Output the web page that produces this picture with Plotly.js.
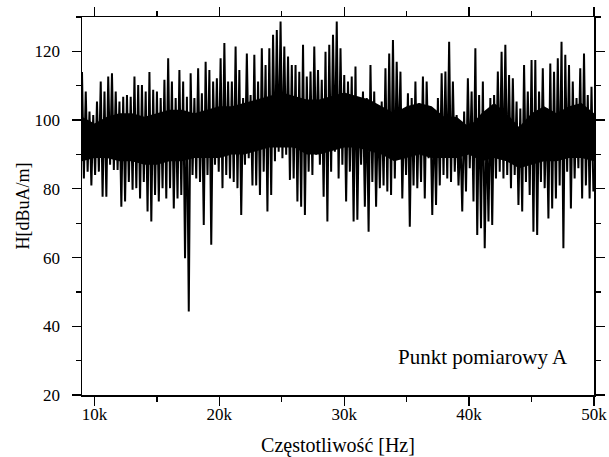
<!DOCTYPE html>
<html>
<head>
<meta charset="utf-8">
<script src="https://cdn.plot.ly/plotly-3.0.1.min.js"></script>
<style>html,body{margin:0;padding:0;background:#fff}#chart{width:609px;height:457px}</style>
</head>
<body>
<div id="chart"></div>
<script>
// Spectrum: local maxima and minima on a 300 Hz grid
const startFreq = 9000;      // Hz, first maximum
const stepFreq = 300;        // Hz between successive maxima (minima sit halfway)
const peakLevel = [
114,108.3,102.5,101.5,105.4,111.2,108.3,112.7,113.6,108.3,105.4,106.8,107.3,106.8,112.7,110.2,110.2,108.3,114,108.8,108.3,106.4,111.7,118,
111.2,106.4,114.6,111.2,106.8,113.6,106.4,115.1,107.8,117,114.6,111.2,112.2,118,122.4,111.2,111.2,121.4,114.6,106.4,119.4,107.3,
119,111.2,120.9,116,120.9,124.8,126.2,128.7,121.4,118.5,116,116,114.1,121.9,112.7,114.1,121.4,114.6,111.7,119.9,121.9,124.8,128.7,
120.9,113.1,111.2,112.7,115.6,106.4,108.3,106.4,116,108.3,102.5,105.4,115.1,119.4,123.3,117,114.1,103.4,107.8,106.4,111.2,104.9,112.7,
111.2,101.5,102.5,106.4,113.6,114.1,122.8,111.2,101.5,95.7,102.5,112.2,108.3,120.9,107.3,111.2,98.6,106.4,107.3,114.1,119.9,121.9,113.1,
112.2,105.4,103.4,116,108.3,117.5,117.5,108.3,115.1,103.4,116.5,114.1,118,122.8,119,116,111.2,106.4,115.1,119.4,107.3,109.7
];
const dipLevel = [
83,85,81,84,85,77.7,77.7,87,85.5,85.5,74.8,76.3,82,79.7,80.2,77.2,82,73.4,70.5,78.2,76.3,80.2,77.2,80.2,
74.3,77.2,78.2,59.8,44.3,84,83,82,69.5,84,63.7,87,85,80.2,84,83,82,80.2,72.4,87,88.9,81,
81,78.2,85,73.4,78.2,88,90.8,88.9,89.9,82.6,83,76.3,74.8,72.4,85,84,89.9,87,77.7,70.5,85,90.8,83,
87,76.3,85,70.5,71,87,74.8,67.5,82,74.8,80.2,81,79.2,78.2,83,89.9,77.2,84,69,81,80.2,82,77.2,
88.9,72.4,75.3,81,84,83,82,85,81,73.4,79.2,86,76.3,66.6,68.5,62.7,70.5,69.5,83,85,83,84,80.2,
84,75.3,73.4,82,78.2,67.5,66.6,82,80.2,71.4,74.3,77.2,81,62.7,85,74.3,83,86,77.2,81,77.2,79.2
];
// Dense (solid) part of the spectrum, edges read every 1 kHz from 9 kHz to 50 kHz
const coreFreq = [9000,10000,11000,12000,13000,14000,15000,16000,17000,18000,19000,20000,21000,22000,23000,24000,25000,26000,27000,28000,29000,30000,31000,32000,33000,34000,35000,36000,37000,38000,39000,40000,41000,42000,43000,44000,45000,46000,47000,48000,49000,50000];
const coreHigh = [101,99,101,102,102,101,102,103,103,102,103,104,104,105,106,107,108,107,106,106,107,108,107,106,104,102,104,105,104,101,101,98,102,105,102,98,102,104,102,104,105,102];
const coreLow  = [88,89,89,88,88,87,87,88,88,89,89,89,90,90,91,92,92,92,90,90,91,92,92,91,90,88,89,90,89,89,89,90,88,89,88,86,87,88,88,89,89,88];
const xTitle = 'Częstotliwość [Hz]';
const yTitle = 'H[dBuA/m]';
const label = 'Punkt pomiarowy A';

const xs = [], ys = [];
for (let i = 0; i < peakLevel.length; i++) {
  xs.push(startFreq + i * stepFreq); ys.push(peakLevel[i]);
  xs.push(startFreq + i * stepFreq + stepFreq / 2); ys.push(dipLevel[i]);
}

const fam = '"Liberation Serif", "Times New Roman", serif';
const font = {family: fam, size: 17, color: '#000'};
const axisCommon = {
  showgrid: false, zeroline: false, showline: true, linecolor: '#000', linewidth: 1.5,
  mirror: 'ticks', ticks: 'outside', ticklen: 9, tickwidth: 1.3, tickcolor: '#000',
  tickfont: font
};

Plotly.newPlot('chart', [
  {x: coreFreq, y: coreLow, type: 'scatter', mode: 'lines', line: {width: 0, color: '#000'}, hoverinfo: 'skip'},
  {x: coreFreq, y: coreHigh, type: 'scatter', mode: 'lines', fill: 'tonexty', fillcolor: '#000', line: {width: 0, color: '#000'}, hoverinfo: 'skip'},
  {x: xs, y: ys, type: 'scatter', mode: 'lines', line: {color: '#000', width: 2}, hoverinfo: 'skip'}
], {
  width: 609, height: 457,
  margin: {l: 82, r: 15, t: 17, b: 62},
  paper_bgcolor: '#fff', plot_bgcolor: '#fff',
  showlegend: false,
  font: font,
  xaxis: Object.assign({}, axisCommon, {
    range: [9000, 50000], tickmode: 'linear', tick0: 0, dtick: 10000, tickformat: '~s',
    ticklabelstandoff: -6,
    minor: {tickmode: 'linear', tick0: 0, dtick: 5000, ticks: 'outside', ticklen: 5, tickwidth: 1.3, tickcolor: '#000'},
    title: {text: xTitle, font: {family: fam, size: 20, color: '#000'}, standoff: 16}
  }),
  yaxis: Object.assign({}, axisCommon, {
    range: [20, 130], tickmode: 'linear', tick0: 0, dtick: 20,
    ticklabelstandoff: 8,
    minor: {tickmode: 'linear', tick0: 0, dtick: 10, ticks: 'outside', ticklen: 5, tickwidth: 1.3, tickcolor: '#000'},
    title: {text: yTitle, font: {family: fam, size: 18, color: '#000'}, standoff: 0}
  }),
  annotations: [{
    text: label, xref: 'paper', yref: 'paper', x: 0.783, y: 0.1,
    xanchor: 'center', yanchor: 'middle', showarrow: false,
    font: {family: fam, size: 21, color: '#000'}
  }]
}, {staticPlot: true, displayModeBar: false});
</script>
</body>
</html>
